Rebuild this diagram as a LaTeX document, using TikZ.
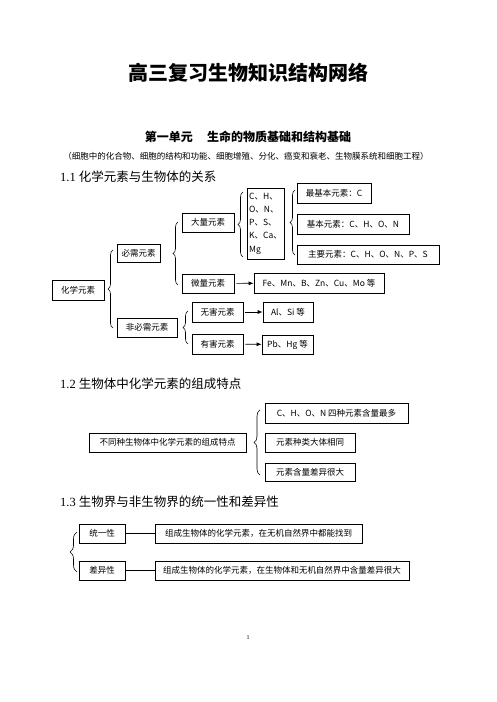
\documentclass[tikz,border=0pt]{standalone}
\usepackage{fontspec}
\setmainfont{Liberation Serif}
\newfontfamily\cjk{Noto Sans CJK SC}
\usetikzlibrary{arrows.meta,decorations.pathreplacing}
\newcommand\boxfont{\cjk\fontsize{8.5}{13.3}\selectfont}
\tikzset{
  box/.style={draw, line width=0.7pt, font=\boxfont, inner sep=1pt, anchor=center},
  brc/.style={decorate, decoration={brace, amplitude=#1}, line width=0.6pt},
  arr/.style={-{Latex[length=5pt,width=4pt]}, line width=0.7pt, shorten <=2pt},
  conn/.style={line width=0.7pt},
  head/.style={anchor=west, inner sep=0pt, font=\fontsize{12.5}{14}\selectfont}
}
\begin{document}
\begin{tikzpicture}[x=1pt,y=-1pt]
\useasboundingbox[fill=white] (0,0) rectangle (496,702);
% titles
\node[inner sep=0pt, font=\cjk\bfseries\fontsize{20}{22}\selectfont] (title) at (248,73) {高三复习生物知识结构网络};
\node[inner sep=0pt, font=\cjk\bfseries\fontsize{12}{14}\selectfont] (unit) at (248,137) {第一单元\hspace{1.2em}生命的物质基础和结构基础};
\node[inner sep=0pt, font=\cjk\fontsize{8.5}{10}\selectfont] (sub) at (246,156) {（细胞中的化合物、细胞的结构和功能、细胞增殖、分化、癌变和衰老、生物膜系统和细胞工程）};
\node[head] (h1) at (60,177) {1.1 {\cjk 化学元素与生物体的关系}};
\node[head] (h2) at (60,384) {1.2 {\cjk 生物体中化学元素的组成特点}};
\node[head] (h3) at (60,502) {1.3 {\cjk 生物界与非生物界的统一性和差异性}};

% 1.1
\node[box, minimum width=52pt, minimum height=20pt] (hx) at (78,290) {化学元素};
\node[box, minimum width=43pt, minimum height=18pt] (bx) at (138.5,253) {必需元素};
\node[box, minimum width=60pt, minimum height=19pt] (fbx) at (147,327.5) {非必需元素};
\node[box, minimum width=52pt, minimum height=19pt] (dl) at (208,222.5) {大量元素};
\node[box, minimum width=52pt, minimum height=19pt] (wl) at (208,283.5) {微量元素};
\node[box, minimum width=37pt, minimum height=71pt, align=left] (chon) at (265.5,223.5) {C、H、\\O、N、\\P、S、\\K、Ca、\\Mg};
\node[box, minimum width=74pt, minimum height=20pt] (zjb) at (334,193) {最基本元素：C};
\node[box, minimum width=112pt, minimum height=20pt] (jb) at (353,224) {基本元素：C、H、O、N};
\node[box, minimum width=142pt, minimum height=19pt] (zy) at (368,254.5) {主要元素：C、H、O、N、P、S};
\node[box, minimum width=130pt, minimum height=20pt] (fe) at (319,283) {Fe、Mn、B、Zn、Cu、Mo 等};
\node[box, minimum width=51pt, minimum height=20pt] (wh) at (217.5,312) {无害元素};
\node[box, minimum width=51pt, minimum height=20pt] (yh) at (217.5,344) {有害元素};
\node[box, minimum width=50pt, minimum height=20pt] (al) at (288,312) {Al、Si 等};
\node[box, minimum width=51pt, minimum height=19pt] (pb) at (287.5,344.5) {Pb、Hg 等};

\draw[brc=5pt] (113,328) -- (113,250);
\draw[brc=5pt] (178,285) -- (178,222);
\draw[brc=5pt] (243,257) -- (243,192);
\draw[brc=5pt] (295,255) -- (295,190);
\draw[brc=5pt] (188,344) -- (188,311);

\draw[arr] (wl) -- (fe);
\draw[arr] (wh) -- (al);
\draw[arr] (yh) -- (pb);

% 1.2
\node[box, minimum width=157pt, minimum height=19pt] (ts) at (167.5,442.5) {不同种生物体中化学元素的组成特点};
\node[box, minimum width=143pt, minimum height=20pt] (c1) at (336.5,413) {C、H、O、N 四种元素含量最多};
\node[box, minimum width=90pt, minimum height=19pt] (c2) at (310,442.5) {元素种类大体相同};
\node[box, minimum width=90pt, minimum height=18pt] (c3) at (310,472) {元素含量差异很大};
\draw[brc=6pt] (260,475) -- (260,410);

% 1.3
\node[box, minimum width=46pt, minimum height=19pt] (ty) at (102,533.5) {统一性};
\node[box, minimum width=46pt, minimum height=19pt] (cy) at (102,570.5) {差异性};
\node[box, minimum width=207pt, minimum height=19pt] (t1) at (258.5,533.5) {组成生物体的化学元素，在无机自然界中都能找到};
\node[box, minimum width=254pt, minimum height=19pt] (t2) at (282,570.5) {组成生物体的化学元素，在生物体和无机自然界中含量差异很大};
\draw[brc=7pt] (77,572) -- (77,532);
\draw[conn] (ty) -- (t1);
\draw[conn] (cy) -- (t2);

\node[inner sep=0pt, font=\fontsize{6}{7}\selectfont] (pg) at (248,638) {1};
\end{tikzpicture}
\end{document}
